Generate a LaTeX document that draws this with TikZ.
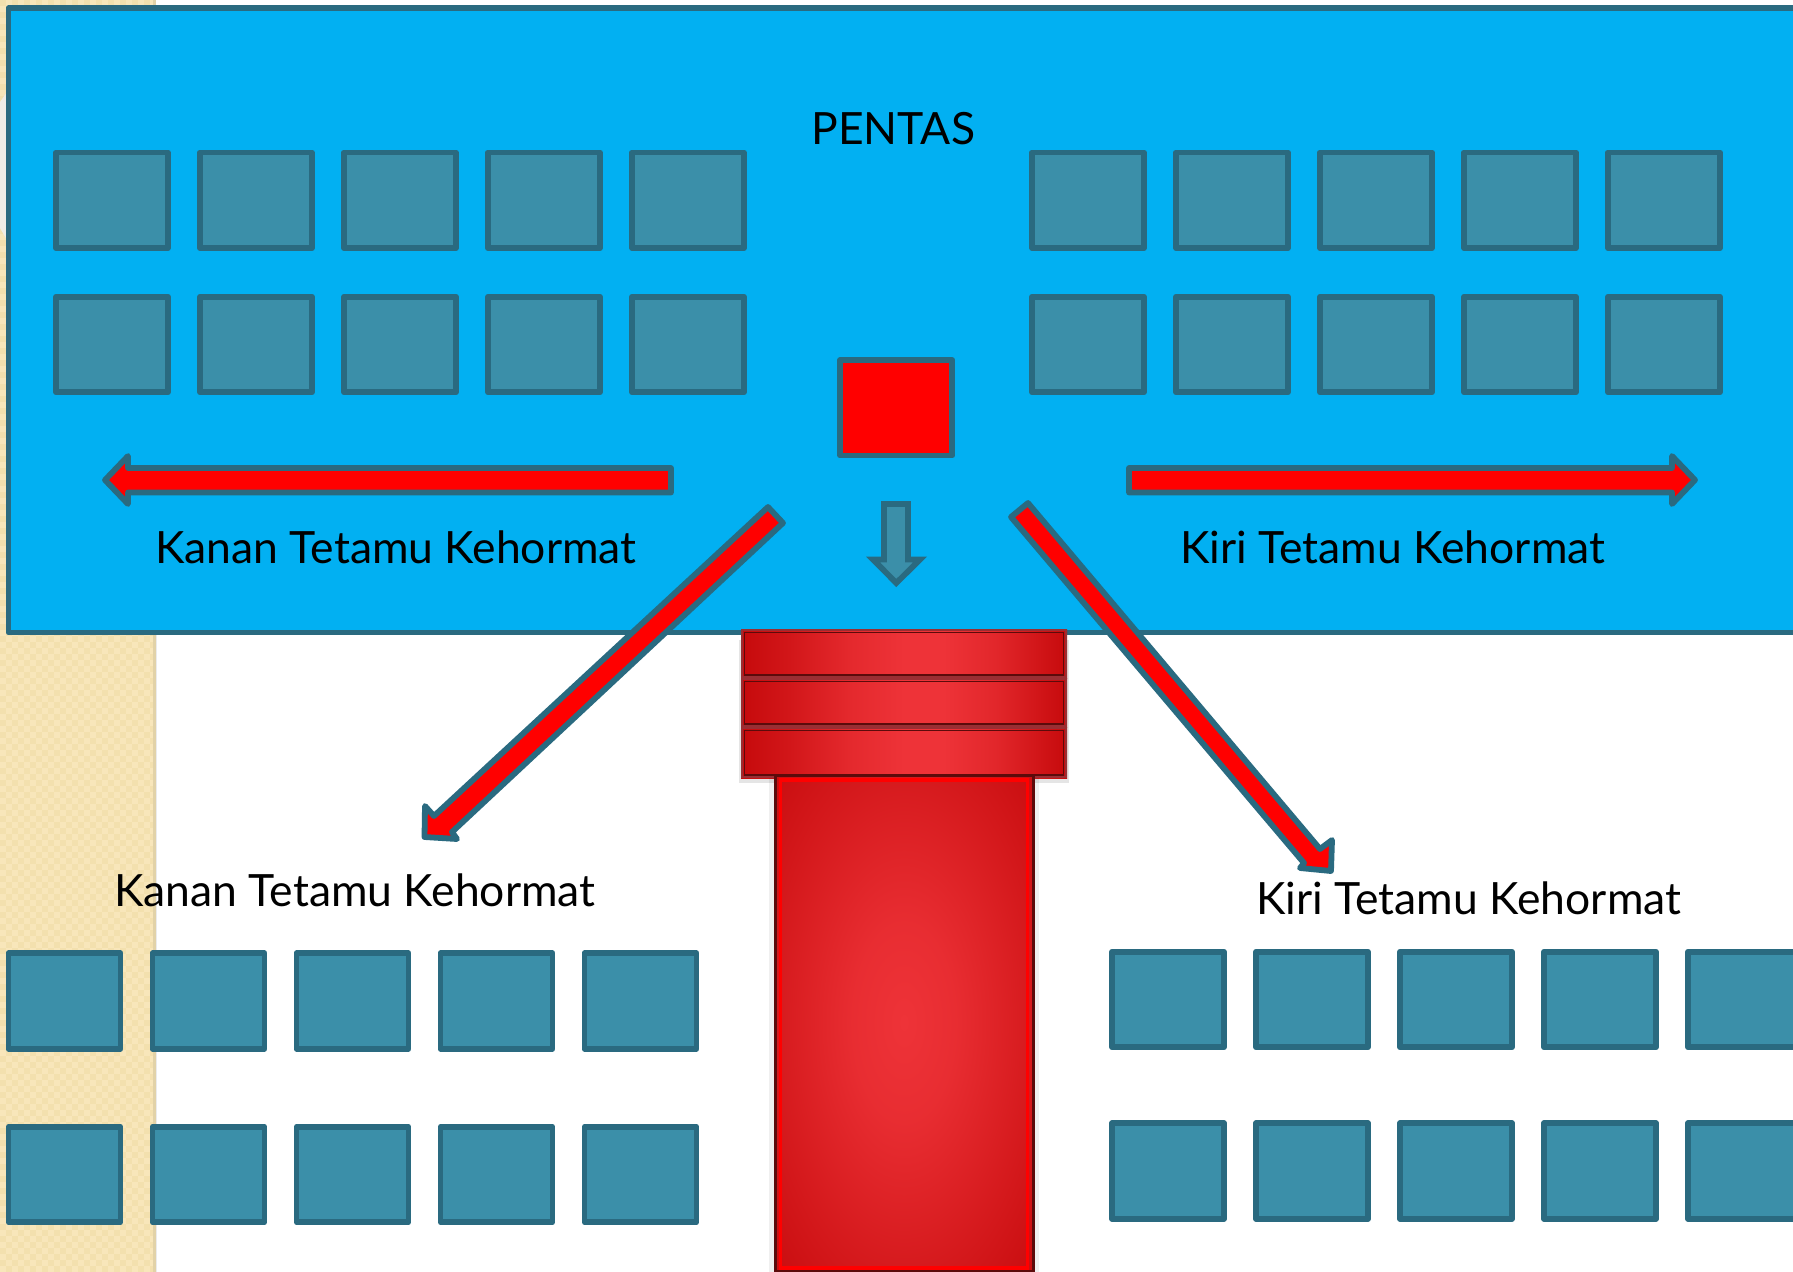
\documentclass[tikz,border=0pt]{standalone}
\usepackage{fontspec}
\setmainfont{Lato}
\definecolor{stageblue}{HTML}{02B0F2}
\definecolor{seatfill}{HTML}{3B8FA9}
\definecolor{seatline}{HTML}{2A6A80}
\definecolor{beige}{HTML}{F8E6BA}
\definecolor{beigedark}{HTML}{F3E0AE}
\definecolor{carpetdark}{HTML}{C60A0C}
\definecolor{carpetlight}{HTML}{EE3338}
\definecolor{carpethalo}{HTML}{9A2E33}
\definecolor{carpetedge}{HTML}{5C0B0B}
\pgfdeclareradialshading{carpetglow}{\pgfpoint{0bp}{0bp}}{%
  color(0bp)=(carpetlight);
  color(10bp)=(carpetlight!85!carpetdark);
  color(24bp)=(carpetlight!42!carpetdark);
  color(38bp)=(carpetdark);
  color(100bp)=(carpetdark)}
\pgfdeclarehorizontalshading{bandglow}{100bp}{%
  color(0bp)=(carpetdark);
  color(25bp)=(carpetdark);
  color(32.5bp)=(carpetlight!30!carpetdark);
  color(41.5bp)=(carpetlight!75!carpetdark);
  color(50bp)=(carpetlight);
  color(56bp)=(carpetlight);
  color(64bp)=(carpetlight!70!carpetdark);
  color(75bp)=(carpetdark);
  color(100bp)=(carpetdark)}
\tikzset{
  outlined/.style={draw=seatline,line width=3.3pt,line join=round},
  seat/.style={outlined,fill=seatfill,rectangle,minimum width=2.24cm,minimum height=1.91cm,inner sep=0pt},
  redarrow/.style={outlined,fill=red},
  label/.style={anchor=base west,inner sep=0pt,text=black,font=\fontsize{25.3}{30}\selectfont},
  band/.style={shading=bandglow,draw=none}
}
\begin{document}
\begin{tikzpicture}[x=0.02cm,y=-0.02cm]
\useasboundingbox (0,0) rectangle (1793,1272);
\clip (0,0) rectangle (1793,1272);
\fill[white] (0,0) rectangle (1793,1272);
% wallpaper strip
\fill[beige] (0,0) rectangle (156,1272);
\foreach \r in {0,1,...,105}{
  \foreach \c in {0,1,...,12}{
    \fill[beigedark] ({12*\c},{12*\r}) rectangle ++(6,6);
    \fill[beigedark] ({12*\c+6},{12*\r+6}) rectangle ++(6,6);
  }
}
\fill[white] (156,0) rectangle (160,1272);
\fill[beigedark!85!gray] (153,0) rectangle (156,1272);
\fill[black!8] (156,0) rectangle (157,1272);
\fill[white] (156,0) rectangle (1793,5);
\fill[beige!55!gray!25!white] (0,102) -- (7,92) -- (7,240) -- (0,228) -- cycle;
% stage
\node[outlined,fill=stageblue,rectangle,anchor=north west,inner sep=0pt,minimum width=36.4cm,minimum height=12.49cm] (stage) at (5.6,5.2) {};
\node[label] (pentas) at (811,144) {PENTAS};
% stage seats
\foreach \i in {0,...,4}{
  \node[seat] (ula\i) at ({112+144*\i},200.3) {};
  \node[seat] (ulb\i) at ({112+144*\i},344.5) {};
  \node[seat] (ura\i) at ({1088+144*\i},200.3) {};
  \node[seat] (urb\i) at ({1088+144*\i},344.5) {};
}
% centre square and down arrow
\node[outlined,fill=red,rectangle,inner sep=0pt,minimum width=2.24cm,minimum height=1.91cm] (centre) at (896.3,407.8) {};
\draw[outlined,line join=miter,fill=seatfill] (884,504) -- (908,504) -- (908,559.5) -- (920,559.5) -- (896.3,583) -- (873,559.5) -- (884,559.5) -- cycle;
% horizontal arrows
\draw[redarrow] (671,468) -- (128,468) -- (128,456) -- (105,480) -- (128,504) -- (128,492.5) -- (671,492.5) -- cycle;
\draw[redarrow] (1129,468) -- (1672,468) -- (1672,456) -- (1695,480) -- (1672,504) -- (1672,492.5) -- (1129,492.5) -- cycle;
\node[label] (kanan1) at (155,563) {Kanan Tetamu Kehormat};
\node[label] (kiri1) at (1180,563) {Kiri Tetamu Kehormat};
% diagonal arrows
\draw[redarrow] (768,507) -- (783,523) -- (452,832) -- (457,839) -- (424.5,837) -- (425,806) -- (434,816) -- cycle;
\draw[redarrow] (1028,503) -- (1011,517) -- (1304,863) -- (1300,868) -- (1331,871) -- (1332,840) -- (1320,849) -- cycle;
\node[label] (kanan2) at (114,906) {Kanan Tetamu Kehormat};
\node[label] (kiri2) at (1256,914) {Kiri Tetamu Kehormat};
% carpet
\fill[black,opacity=.10] (739,640) rectangle (1069,783);
\foreach \n/\a/\b in {a/629/678,b/678/727,c/727/778}{
  \shade[band] (741,\a) rectangle (1067,\b);
  \draw[draw=carpethalo,line width=1.2pt] (742,\a+1) rectangle (1066,\b-1);
  \draw[draw=carpetedge,line width=1.1pt] (744.5,\a+3.5) rectangle (1063.5,\b-3);
}
\fill[black,opacity=.06] (769,778) rectangle (1039,1272);
\shade[shading=carpetglow] (775,775) rectangle (1033,1270);
\draw[draw=carpetedge,line width=1.7pt] (775,775) rectangle (1033,1271);
\draw[draw=red,line width=2pt] (780.5,780) rectangle (1027.5,1268);
% lower seats
\foreach \i in {0,...,4}{
  \node[seat] (lla\i) at ({64.5+144*\i},1001) {};
  \node[seat] (llb\i) at ({64.5+144*\i},1174.5) {};
  \node[seat] (lra\i) at ({1168+144*\i},999.5) {};
  \node[seat] (lrb\i) at ({1168+144*\i},1171) {};
}
\end{tikzpicture}
\end{document}
